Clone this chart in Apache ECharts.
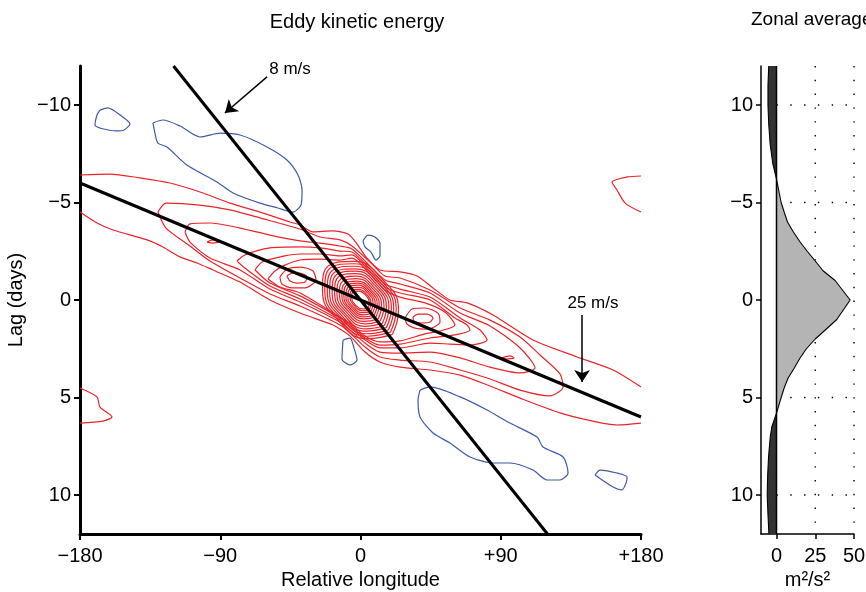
<!DOCTYPE html>
<html>
<head>
<meta charset="utf-8">
<title>Eddy kinetic energy</title>
<script src="https://cdn.jsdelivr.net/npm/echarts@6/dist/echarts.min.js"></script>
<style>
  html, body { margin: 0; padding: 0; background: #fff; }
  #chart { width: 866px; height: 592px; }
</style>
</head>
<body>
<div id="chart"></div>
<script>
// contour paths, points are [relative longitude (deg), lag (days)]
const redOuterTop = [[-180,-6.41],[-160.8,-6.46],[-141.5,-6.26],[-122.3,-6.0],[-103,-5.54],[-83.8,-4.97],[-64.5,-4.51],[-45.2,-4.0],[-38.8,-3.85],[-30.5,-3.49],[-17.6,-3.54],[-8.0,-3.38],[-2.2,-2.87],[3.5,-2.21],[12.5,-1.54],[25.4,-1.44],[36.3,-1.23],[46.5,-0.62],[57.4,0],[68.4,0.15],[85.0,0.77],[110.7,2.05],[139.0,2.92],[162.1,3.59],[180,4.46]];
const redOuterBottom = [[-180,-4.51],[-169.1,-3.95],[-158.8,-3.59],[-137.0,-3.08],[-126.8,-2.72],[-115.8,-2.21],[-104.9,-1.90],[-94.7,-1.54],[-77.3,-0.92],[-58.1,0],[-38.8,0.67],[-17.6,1.28],[-13.2,1.49],[-6.7,1.85],[2.9,2.67],[12.5,3.18],[25.4,3.44],[44.6,3.59],[63.9,3.85],[83.1,4.41],[102.4,5.03],[128.0,5.79],[145.4,6.15],[164.6,6.41],[180,6.31]];
const red2 = [[-130.0,-4.51],[-124.8,-4.97],[-103.0,-4.87],[-83.8,-4.62],[-64.5,-4.21],[-38.8,-3.64],[-26.0,-3.23],[-13.2,-3.08],[-5.5,-2.77],[6.1,-1.95],[15.7,-1.23],[25.4,-1.13],[44.6,-0.51],[63.9,0.41],[83.1,1.03],[102.4,1.90],[115.2,2.82],[128.0,3.79],[130.0,4.46],[121.6,4.92],[102.4,4.62],[83.1,4.05],[63.9,3.59],[44.6,3.18],[25.4,3.08],[12.5,2.92],[2.9,2.41],[-6.7,1.69],[-13.2,1.28],[-38.8,0.31],[-58.1,-0.31],[-77.3,-1.13],[-96.6,-2.00],[-109.4,-2.77],[-124.8,-3.69],[-130.0,-4.51]];
const red3 = [[-112.6,-3.49],[-109.4,-3.90],[-96.6,-3.95],[-77.3,-3.69],[-58.1,-3.33],[-38.8,-3.03],[-26.0,-2.92],[-13.2,-2.77],[-5.5,-2.62],[6.1,-1.74],[15.7,-1.03],[25.4,-0.82],[44.6,-0.36],[63.9,0.67],[83.1,1.33],[102.4,2.46],[112.0,3.49],[102.4,3.74],[83.1,3.44],[63.9,2.97],[44.6,2.67],[25.4,2.72],[12.5,2.67],[2.9,2.21],[-6.7,1.54],[-13.2,1.13],[-38.8,0.10],[-58.1,-0.56],[-77.3,-1.54],[-96.6,-2.15],[-109.4,-2.97],[-112.6,-3.49]];
const red4 = [[-79.3,-2.00],[-74.2,-2.31],[-58.1,-2.67],[-38.8,-2.72],[-26.0,-2.67],[-13.2,-2.51],[-5.5,-2.46],[6.1,-1.59],[15.7,-0.82],[25.4,-0.56],[44.6,-0.15],[63.9,0.92],[76.7,1.54],[81.2,2.05],[70.3,2.31],[57.4,2.26],[44.6,2.21],[25.4,2.46],[12.5,2.46],[2.9,2.05],[-6.7,1.38],[-13.2,1.03],[-38.8,-0.05],[-58.1,-0.72],[-74.2,-1.64],[-79.3,-2.00]];
const red5 = [[-67.7,-1.54],[-63.2,-1.95],[-48.5,-2.26],[-38.8,-2.36],[-26.0,-2.36],[-13.2,-2.26],[-5.5,-2.31],[6.1,-1.44],[15.7,-0.67],[25.4,-0.36],[44.6,0],[60.6,0.92],[68.4,1.28],[70.3,1.54],[60.6,1.79],[44.6,1.95],[25.4,2.26],[12.5,2.31],[2.9,1.95],[-6.7,1.28],[-13.2,0.92],[-38.8,-0.21],[-58.1,-0.87],[-67.7,-1.54]];
const red6 = [[-59.4,-1.08],[-54.9,-1.49],[-48.5,-1.79],[-38.8,-2.05],[-26.0,-2.10],[-13.2,-2.05],[-5.5,-2.15],[6.1,-1.33],[15.7,-0.51],[25.4,-0.15],[41.4,0.15],[54.2,0.62],[60.6,1.28],[51.0,1.59],[41.4,1.74],[25.4,2.10],[12.5,2.15],[2.9,1.85],[-6.7,1.18],[-13.2,0.87],[-38.8,-0.36],[-51.7,-0.67],[-59.4,-1.08]];
const redWestMax = [[-51.7,-1.18],[-47.2,-1.59],[-38.8,-1.69],[-30.5,-1.49],[-28.6,-1.03],[-35.6,-0.62],[-43.9,-0.62],[-50.4,-0.82],[-51.7,-1.18]];
const redWestMaxInner = [[-47.2,-1.23],[-43.9,-1.38],[-38.8,-1.38],[-34.3,-1.18],[-35.6,-0.92],[-40.8,-0.87],[-45.2,-0.97],[-47.2,-1.23]];
const redEastMax = [[28.6,0.92],[33.1,0.46],[41.4,0.41],[49.7,0.67],[51.0,1.13],[43.3,1.49],[35.0,1.44],[29.8,1.23],[28.6,0.92]];
const redEastMaxInner = [[33.7,0.87],[36.9,0.72],[42.7,0.72],[46.5,0.92],[44.6,1.13],[38.8,1.18],[34.3,1.08],[33.7,0.87]];
const redDashWest = [[-98.5,-2.97],[-94.7,-3.08],[-90.8,-2.97],[-94.7,-2.92],[-98.5,-2.97]];
const redDashEast = [[91.0,2.97],[95.9,2.87],[98.5,2.97],[93.4,3.03],[91.0,2.97]];
const redSouthWest = [[-180,4.51],[-169.1,4.97],[-167.2,5.49],[-159.5,6.00],[-165.3,6.21],[-180,6.31]];
const redNorthEast = [[180,-6.36],[171.1,-6.31],[161.4,-6.05],[164.6,-5.64],[169.8,-4.97],[180,-4.51]];

// the dense rings of the central maximum, outer to inner
const coreRings = [
  [[20.5,1.76],[24.4,0.50],[14.1,-1.05],[-4.5,-1.98],[-20.5,-1.76],[-24.4,-0.50],[-14.1,1.05],[4.5,1.98],[20.5,1.76]],
  [[19.2,1.65],[22.9,0.47],[13.2,-0.99],[-4.2,-1.86],[-19.2,-1.65],[-22.9,-0.47],[-13.2,0.99],[4.2,1.86],[19.2,1.65]],
  [[17.9,1.53],[21.3,0.43],[12.3,-0.92],[-3.9,-1.73],[-17.9,-1.53],[-21.3,-0.43],[-12.3,0.92],[3.9,1.73],[17.9,1.53]],
  [[16.6,1.42],[19.8,0.40],[11.4,-0.85],[-3.6,-1.60],[-16.6,-1.42],[-19.8,-0.40],[-11.4,0.85],[3.6,1.60],[16.6,1.42]],
  [[15.3,1.31],[18.2,0.37],[10.5,-0.78],[-3.4,-1.48],[-15.3,-1.31],[-18.2,-0.37],[-10.5,0.78],[3.4,1.48],[15.3,1.31]],
  [[14.0,1.20],[16.6,0.34],[9.6,-0.72],[-3.1,-1.35],[-14.0,-1.20],[-16.6,-0.34],[-9.6,0.72],[3.1,1.35],[14.0,1.20]],
  [[12.6,1.08],[15.1,0.31],[8.7,-0.65],[-2.8,-1.22],[-12.6,-1.08],[-15.1,-0.31],[-8.7,0.65],[2.8,1.22],[12.6,1.08]],
  [[11.3,0.97],[13.5,0.28],[7.8,-0.58],[-2.5,-1.10],[-11.3,-0.97],[-13.5,-0.28],[-7.8,0.58],[2.5,1.10],[11.3,0.97]],
  [[10.0,0.86],[12.0,0.24],[6.9,-0.52],[-2.2,-0.97],[-10.0,-0.86],[-12.0,-0.24],[-6.9,0.52],[2.2,0.97],[10.0,0.86]],
  [[8.9,0.77],[10.7,0.22],[6.2,-0.46],[-2.0,-0.87],[-8.9,-0.77],[-10.7,-0.22],[-6.2,0.46],[2.0,0.87],[8.9,0.77]],
  [[7.8,0.67],[9.4,0.19],[5.4,-0.40],[-1.7,-0.76],[-7.8,-0.67],[-9.4,-0.19],[-5.4,0.40],[1.7,0.76],[7.8,0.67]],
  [[6.8,0.58],[8.1,0.16],[4.7,-0.35],[-1.5,-0.65],[-6.8,-0.58],[-8.1,-0.16],[-4.7,0.35],[1.5,0.65],[6.8,0.58]],
  [[5.7,0.49],[6.8,0.14],[3.9,-0.29],[-1.2,-0.55],[-5.7,-0.49],[-6.8,-0.14],[-3.9,0.29],[1.2,0.55],[5.7,0.49]],
  [[4.8,0.41],[5.7,0.12],[3.3,-0.25],[-1.1,-0.46],[-4.8,-0.41],[-5.7,-0.12],[-3.3,0.25],[1.1,0.46],[4.8,0.41]]
];

const blueNW1 = [[-167.2,-9.74],[-162.1,-9.85],[-154.3,-9.49],[-147.9,-9.03],[-151.8,-8.72],[-156.9,-8.67],[-170.4,-8.97],[-169.1,-9.49],[-167.2,-9.74]];
const blueNW2 = [[-133.2,-9.08],[-126.8,-9.23],[-115.8,-8.92],[-103.0,-8.36],[-90.2,-8.56],[-77.3,-8.46],[-60.0,-7.85],[-47.2,-7.18],[-40.1,-6.41],[-37.5,-5.64],[-38.2,-4.87],[-43.3,-4.51],[-53.0,-4.72],[-64.5,-4.97],[-81.8,-5.49],[-92.1,-6.05],[-111.4,-6.92],[-124.2,-7.85],[-130.0,-8.05],[-131.9,-8.56],[-133.2,-9.08]];
const blueN = [[1.6,-3.03],[4.8,-3.33],[9.3,-3.23],[12.5,-2.92],[12.5,-2.26],[9.9,-2.05],[6.7,-2.46],[2.9,-2.72],[1.6,-3.03]];
const blueS = [[-11.2,2.05],[-6.7,1.95],[-4.2,2.46],[-2.2,3.08],[-6.7,3.33],[-11.9,3.03],[-11.2,2.05]];
const blueSE1 = [[38.2,4.62],[44.6,4.46],[63.9,4.97],[81.2,5.64],[95.9,6.31],[113.3,7.03],[117.1,7.54],[130.0,8.05],[133.2,8.87],[128.0,9.23],[119.7,9.23],[110.7,8.72],[95.9,8.36],[85.0,8.36],[70.3,8.05],[57.4,7.33],[46.5,6.82],[38.2,6.00],[36.9,5.13],[38.2,4.62]];
const blueSE2 = [[150.5,8.97],[153.7,8.72],[164.6,8.87],[171.1,9.08],[170.4,9.38],[167.8,9.74],[162.1,9.59],[150.5,8.97]];

// phase speed guide lines and their labelled arrows
const line25 = [[-180,-6],[180,6]];
const line8 = [[-120,-12],[120,12]];
const arrow8 = [[-60,-11.44],[-87,-9.59]];
const arrow25 = [[142.2,0.77],[142.2,4.2]];

// zonal average profile
const zonalLag = [-12,-11,-10,-9,-8,-7,-6.2,-5,-4.5,-4,-3.5,-3,-2.5,-2,-1.5,-1,0,1,1.5,2,2.5,3,3.5,4,4.5,5,5.8,6.5,7,8,9,10,11,12];
const zonalEke = [-5,-5.5,-5.5,-5,-4.1,-2.4,0,3,5,7.1,10.8,15,19.8,25,30,37.8,47.5,38.9,32,25,19.3,15,11.4,7.5,5,3,0,-3,-4,-5.1,-5.7,-6,-5.5,-4.9];

// ticks
const lonTicks = [-180, -90, 0, 90, 180];
const lonTickLabels = ['\u2212180', '\u221290', '0', '+90', '+180'];
const lagTicks = [-10, -5, 0, 5, 10];
const lagTickLabels = ['\u221210', '\u22125', '0', '5', '10'];
const zonalLagLabels = ['10', '\u22125', '0', '5', '10'];
const zonalTicks = [0, 25, 50];
const zonalGridX = [25, 50];
const zonalGridLag = [-10, -5, 5, 10];

const FONT = '"Liberation Sans", Arial, Helvetica, sans-serif';
const RED = '#ea2329';
const BLUE = '#3f5aa8';

const chart = echarts.init(document.getElementById('chart'), null, { renderer: 'canvas' });

function contour(points, color, smooth) {
  return {
    type: 'line',
    xAxisIndex: 0,
    yAxisIndex: 0,
    data: points,
    symbol: 'none',
    smooth: smooth,
    silent: true,
    lineStyle: { color: color, width: 1.2 },
    z: 2,
  };
}

function zonalFill(params, api) {
  // split the profile where it crosses zero, fill each piece against the zero line
  const segs = [];
  let cur = [];
  zonalLag.forEach((lag, i) => {
    const v = zonalEke[i];
    cur.push([v, lag]);
    if (v === 0 && cur.length > 1) {
      segs.push(cur);
      cur = [[v, lag]];
    }
  });
  if (cur.length > 1) segs.push(cur);
  const children = segs.map((seg) => {
    const pts = seg.concat([[0, seg[seg.length - 1][1]], [0, seg[0][1]]]).map((p) => api.coord(p));
    const neg = seg.some((p) => p[0] < 0);
    return {
      type: 'polygon',
      shape: { points: pts },
      style: { fill: neg ? '#333333' : '#b4b4b4', stroke: 'none' },
    };
  });
  return { type: 'group', children: children };
}

const series = [];
[redOuterTop, redOuterBottom, red2, red3, red4, red5, red6, redWestMax, redWestMaxInner,
  redEastMax, redEastMaxInner, redDashWest, redDashEast, redSouthWest, redNorthEast]
  .forEach((c) => series.push(contour(c, RED, 0.25)));
coreRings.forEach((c) => series.push(contour(c, RED, 0.5)));
[blueNW1, blueNW2, blueN, blueS, blueSE1, blueSE2].forEach((c) => series.push(contour(c, BLUE, 0.25)));

const arrowLine = { color: '#000', width: 1.5, type: 'solid' };
series.push({
  type: 'line',
  xAxisIndex: 0,
  yAxisIndex: 0,
  data: line25,
  symbol: 'none',
  silent: true,
  lineStyle: { color: '#000', width: 3 },
  z: 5,
  markLine: {
    silent: true,
    symbol: ['none', 'arrow'],
    symbolSize: 12,
    label: { show: false },
    lineStyle: arrowLine,
    emphasis: { disabled: true },
    data: [
      [{ coord: arrow8[0] }, { coord: arrow8[1] }],
      [{ coord: arrow25[0] }, { coord: arrow25[1] }],
    ],
  },
});
series.push({
  type: 'line',
  xAxisIndex: 0,
  yAxisIndex: 0,
  data: line8,
  symbol: 'none',
  silent: true,
  lineStyle: { color: '#000', width: 3 },
  z: 5,
});

// right panel: dotted guides, fill, outline, zero line
const dots = { color: '#000', width: 1.4, type: [1.4, 12.4] };
zonalGridX.forEach((x) => series.push({
  type: 'line', xAxisIndex: 1, yAxisIndex: 1, symbol: 'none', silent: true,
  data: [[x, -12], [x, 12]], lineStyle: dots, z: 1,
}));
zonalGridLag.forEach((lag) => series.push({
  type: 'line', xAxisIndex: 1, yAxisIndex: 1, symbol: 'none', silent: true,
  data: [[0, lag], [50, lag]], lineStyle: dots, z: 1,
}));
series.push({
  type: 'custom',
  xAxisIndex: 1,
  yAxisIndex: 1,
  data: [[0, 0]],
  renderItem: zonalFill,
  silent: true,
  z: 2,
});
series.push({
  type: 'line', xAxisIndex: 1, yAxisIndex: 1, symbol: 'none', silent: true,
  data: zonalLag.map((lag, i) => [zonalEke[i], lag]),
  lineStyle: { color: '#000', width: 1.1 }, z: 3,
});
series.push({
  type: 'line', xAxisIndex: 1, yAxisIndex: 1, symbol: 'none', silent: true,
  data: [[0, -12], [0, 12]],
  lineStyle: { color: '#000', width: 1.5 }, z: 4,
});

const labelStyle = { color: '#000', fontSize: 20, fontFamily: FONT };
const nameStyle = { color: '#000', fontSize: 20, fontFamily: FONT };

const option = {
  animation: false,
  backgroundColor: '#fff',
  textStyle: { fontFamily: FONT },
  grid: [
    { left: 80, top: 66, width: 561, height: 468, outerBoundsMode: 'none' },
    { left: 761, top: 66, width: 93, height: 468, outerBoundsMode: 'none' },
  ],
  xAxis: [
    {
      gridIndex: 0,
      type: 'value',
      min: -180,
      max: 180,
      interval: 90,
      axisLine: { onZero: false, lineStyle: { color: '#000', width: 3 } },
      axisTick: { length: 6, lineStyle: { color: '#000', width: 2 } },
      axisLabel: Object.assign({}, labelStyle, {
        margin: 12,
        formatter: (v) => lonTickLabels[lonTicks.indexOf(v)] ?? '',
      }),
      splitLine: { show: false },
      name: 'Relative longitude',
      nameLocation: 'middle',
      nameGap: 34,
      nameTextStyle: nameStyle,
    },
    {
      gridIndex: 1,
      type: 'value',
      min: -10,
      max: 50,
      axisLine: { onZero: false, lineStyle: { color: '#000', width: 1.5 } },
      axisTick: { customValues: zonalTicks, length: 5, lineStyle: { color: '#000', width: 1.5 } },
      axisLabel: Object.assign({}, labelStyle, { margin: 12, customValues: zonalTicks }),
      splitLine: { show: false },
      name: 'm\u00b2/s\u00b2',
      nameLocation: 'middle',
      nameGap: 35,
      nameTextStyle: nameStyle,
    },
  ],
  yAxis: [
    {
      gridIndex: 0,
      type: 'value',
      inverse: true,
      min: -12,
      max: 12,
      axisLine: { onZero: false, lineStyle: { color: '#000', width: 3 } },
      axisTick: { customValues: lagTicks, length: 6, lineStyle: { color: '#000', width: 2 } },
      axisLabel: Object.assign({}, labelStyle, {
        margin: 9,
        customValues: lagTicks,
        formatter: (v) => lagTickLabels[lagTicks.indexOf(v)] ?? '',
      }),
      splitLine: { show: false },
      name: 'Lag (days)',
      nameLocation: 'middle',
      nameRotate: 90,
      nameGap: 50,
      nameTextStyle: nameStyle,
    },
    {
      gridIndex: 1,
      type: 'value',
      inverse: true,
      min: -12,
      max: 12,
      axisLine: { onZero: false, lineStyle: { color: '#000', width: 1.5 } },
      axisTick: { customValues: lagTicks, length: 5, lineStyle: { color: '#000', width: 1.5 } },
      axisLabel: Object.assign({}, labelStyle, {
        margin: 8,
        customValues: lagTicks,
        formatter: (v) => zonalLagLabels[lagTicks.indexOf(v)] ?? '',
      }),
      splitLine: { show: false },
    },
  ],
  graphic: [
    {
      type: 'text', x: 357, y: 22, silent: true,
      style: { text: 'Eddy kinetic energy', fill: '#000', font: '20px ' + FONT, align: 'center', verticalAlign: 'middle' },
    },
    {
      type: 'text', x: 751, y: 20, silent: true,
      style: { text: 'Zonal average', fill: '#000', font: '19px ' + FONT, align: 'left', verticalAlign: 'middle' },
    },
    {
      type: 'text', x: 290, y: 69, silent: true,
      style: { text: '8 m/s', fill: '#000', font: '17px ' + FONT, align: 'center', verticalAlign: 'middle' },
    },
    {
      type: 'text', x: 593, y: 303, silent: true,
      style: { text: '25 m/s', fill: '#000', font: '17px ' + FONT, align: 'center', verticalAlign: 'middle' },
    },
  ],
  series: series,
};

chart.setOption(option);
window.addEventListener('resize', () => chart.resize());
</script>
</body>
</html>
